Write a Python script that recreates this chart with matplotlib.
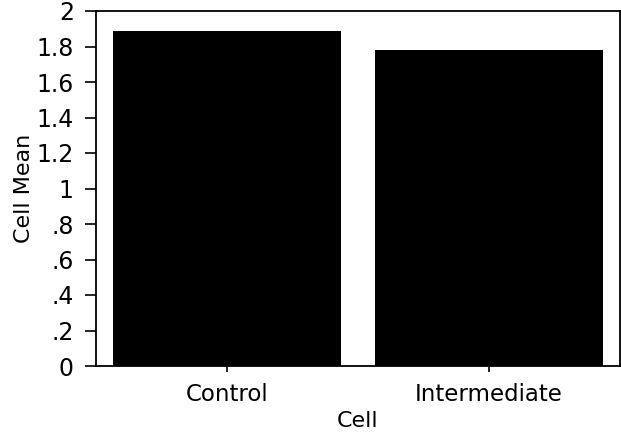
import matplotlib
matplotlib.use("Agg")
import matplotlib.pyplot as plt

categories = ["Control", "Intermediate"]
cell_means = [1.89, 1.78]
ytick_values = [0, 0.2, 0.4, 0.6, 0.8, 1.0, 1.2, 1.4, 1.6, 1.8, 2.0]
ytick_labels = ["0", ".2", ".4", ".6", ".8", "1", "1.2", "1.4", "1.6", "1.8", "2"]

plt.rcParams["font.family"] = ["DejaVu Sans"]

fig = plt.figure(figsize=(6.21, 4.38), dpi=100)
ax = fig.add_axes([96 / 621, 1 - 366 / 438, 524 / 621, 355 / 438])

x = range(len(categories))
ax.bar(x, cell_means, width=0.87, color="black")

ax.set_xlim(-0.5, 1.5)
ax.set_ylim(0, 2)
ax.set_yticks(ytick_values)
ax.set_yticklabels(ytick_labels)
ax.set_xticks(list(x))
ax.set_xticklabels(categories)

ax.tick_params(axis="y", direction="out", length=8, width=1.2, pad=8,
               labelsize=17, colors="black")
ax.tick_params(axis="x", direction="out", length=4, width=1.2, pad=8,
               labelsize=16.5, colors="black")

for s in ax.spines.values():
    s.set_linewidth(1.3)
    s.set_color("black")

ax.set_ylabel("Cell Mean", fontsize=16, labelpad=2)
ax.set_xlabel("Cell", fontsize=16, labelpad=4)

fig.savefig("out.png", dpi=100)
